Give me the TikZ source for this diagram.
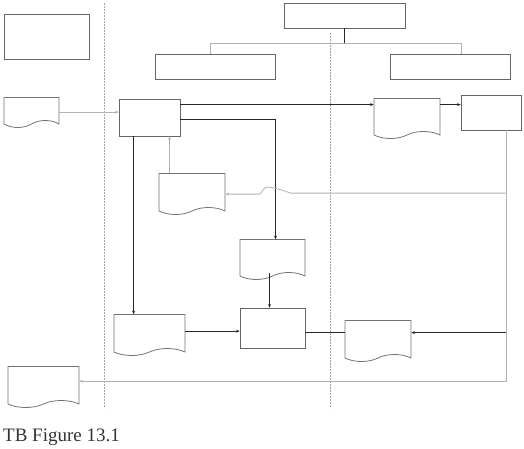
\documentclass[tikz,border=0pt]{standalone}
\usepackage{fontspec}
\setmainfont{Liberation Serif}
\newfontfamily\capfont{Liberation Serif}
\usetikzlibrary{calc,shapes.symbols,arrows.meta}

\tikzset{
  box/.style 2 args={draw=black!60, line width=.8pt, inner sep=0pt, minimum width=#1pt, minimum height=#2pt},
  docu/.style 2 args={tape, tape bend top=none, tape bend bottom=in and out, tape bend height=7pt,
    draw=black!55, line width=.8pt, inner sep=0pt, minimum width=#1pt, minimum height=#2pt},
  flow/.style={black!85, line width=.9pt},
  feed/.style={black!30, line width=.8pt},
  lane/.style={black!35, line width=.9pt, dash pattern=on 2pt off 1pt},
  >={Stealth[length=3.5pt,width=3pt]}
}

\begin{document}
\begin{tikzpicture}[x=1pt,y=-1pt]
  \useasboundingbox (0,0) rectangle (524,449);
  % lanes
  \draw[lane] (104,3) -- (104,408);
  \draw[lane] (330,33) -- (330,408);
  % boxes
  \node[box={85}{45}] (ext) at (46.5,36.5) {};
  \node[box={121}{25}] (head) at (344.5,15.5) {};
  \node[box={120}{25}] (subL) at (215,66.5) {};
  \node[box={120}{25}] (subR) at (450,66.5) {};
  \node[box={61}{37}] (proc) at (149.5,117.5) {};
  \node[box={60}{35}] (out) at (491,112.5) {};
  \node[box={65}{40}] (merge) at (272.5,328) {};
  % documents
  \node[docu={55}{30}] (src) at (31.5,109) {};
  \node[docu={66}{40}] (rep) at (407,115) {};
  \node[docu={66}{41}] (mdoc) at (192,190.5) {};
  \node[docu={65}{40}] (cdoc) at (272.5,256) {};
  \node[docu={71}{41}] (ldoc) at (149.5,331.5) {};
  \node[docu={66}{41}] (rdoc) at (378,337.5) {};
  \node[docu={71}{41}] (odoc) at (43.5,383.5) {};
  % tree
  \draw[flow] (head.south) -- ++(0,15) coordinate (t1);
  \draw[feed] ($(subL.north)+(-5,0)$) |- (t1) -| ($(subR.north)+(11,0)$);
  % flows
  \draw[feed,->] ($(src.north east)+(0,15)$) coordinate (s1) -- (s1 -| proc.west);
  \draw[flow,->] ($(proc.north east)+(0,6)$) coordinate (p1) -- (p1 -| rep.west);
  \draw[flow,->] (p1 -| rep.east) -- (p1 -| out.west);
  \coordinate (d1) at ($(cdoc.north)+(3,0)$);
  \draw[flow,->] ($(proc.north east)+(0,21)$) coordinate (p2) -| (d1);
  \draw[feed,->] ($(mdoc.north west)+(11,0)$) coordinate (m1) -- (m1 |- proc.south);
  \draw[flow,->] ($(proc.south west)+(15,0)$) coordinate (p3) -- (p3 |- ldoc.north);
  \draw[flow,->] ($(ldoc.north east)+(0,17)$) coordinate (l1) -- (l1 -| merge.west);
  \draw[flow,->] ($(cdoc.south)+(-3,0)$) coordinate (c1) -- (c1 |- merge.north);
  \draw[flow] ($(merge.north east)+(0,25)$) coordinate (g1) -- (g1 -| rdoc.west);
  % returns
  \coordinate (o1) at ($(out.south east)+(-15,0)$);
  \draw[feed,->] (o1) |- ($(odoc.north east)+(0,15)$);
  \coordinate (m2) at ($(mdoc.north east)+(0,20)$);
  \draw[feed,->] (m2 -| o1) -- ($(m2 -| d1)+(15,0)$)
    .. controls +(-8,-3) and +(5,0) .. ($(m2 -| d1)+(-8,-6)$)
    .. controls +(-5,0) and +(3,-1) .. ($(m2 -| d1)+(-16,1)$) -- ($(m2)+(0,1)$);
  \draw[flow,->] (g1 -| o1) -- (g1 -| rdoc.east);
  \node[anchor=base west, black!80, font=\capfont\fontsize{19}{22}\selectfont, inner sep=0pt] (cap) at (3,441) {TB Figure 13.1};
\end{tikzpicture}
\end{document}
